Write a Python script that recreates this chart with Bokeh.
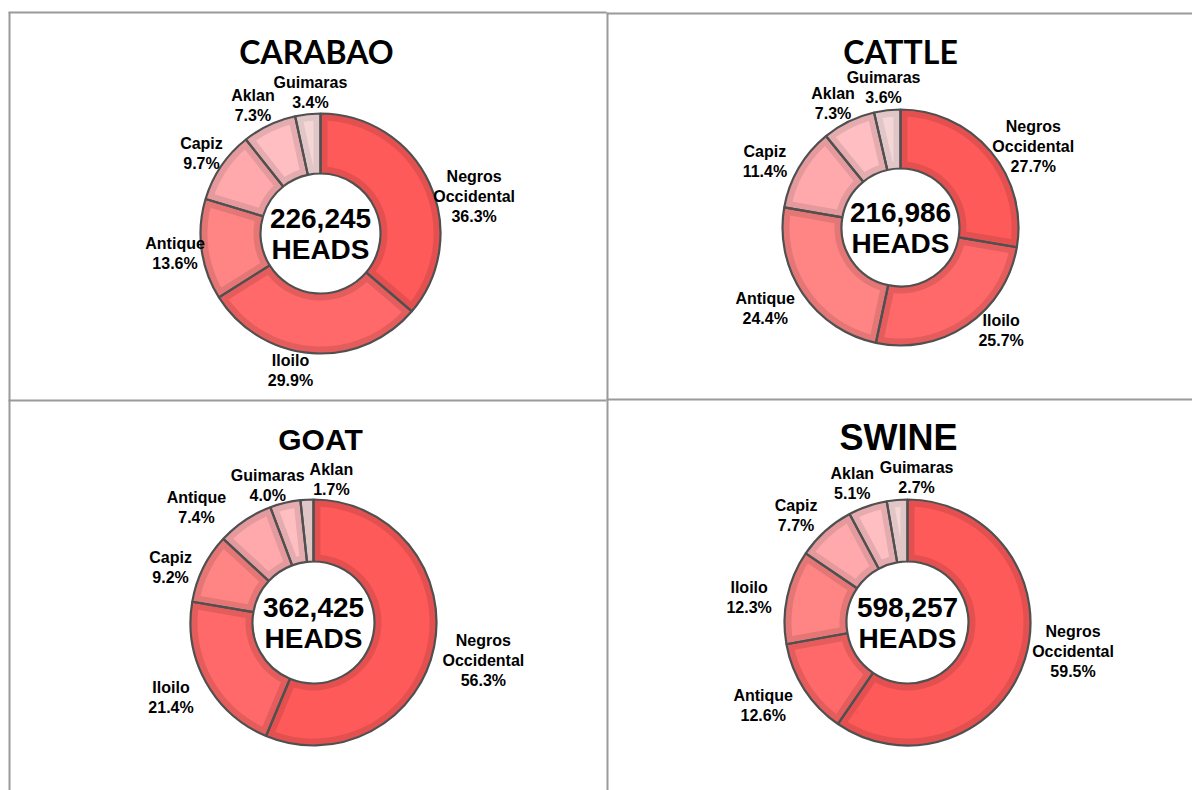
import numpy as np
from bokeh.plotting import figure
from bokeh.models import Range1d, ColumnDataSource
from bokeh.core.properties import value
from bokeh.embed import file_html
from bokeh.resources import INLINE

# ---------------- data ----------------
carabao_prov = ["Negros Occidental", "Iloilo", "Antique", "Capiz", "Aklan", "Guimaras"]
carabao_pct = [36.3, 29.9, 13.6, 9.7, 7.3, 3.4]
carabao_total = "226,245"

cattle_prov = ["Negros Occidental", "Iloilo", "Antique", "Capiz", "Aklan", "Guimaras"]
cattle_pct = [27.7, 25.7, 24.4, 11.4, 7.3, 3.6]
cattle_total = "216,986"

goat_prov = ["Negros Occidental", "Iloilo", "Capiz", "Antique", "Guimaras", "Aklan"]
goat_pct = [56.3, 21.4, 9.2, 7.4, 4.0, 1.7]
goat_total = "362,425"

swine_prov = ["Negros Occidental", "Antique", "Iloilo", "Capiz", "Aklan", "Guimaras"]
swine_pct = [59.5, 12.6, 12.3, 7.7, 5.1, 2.7]
swine_total = "598,257"

unit_label = "HEADS"

# ---------------- styles / layout ----------------
body_colors = ["#FF5A5A", "#FF6969", "#FF8585", "#FFA9AD", "#FFBEC1", "#F4D6D7"]
rim_colors = ["#E45050", "#E45C5C", "#E47676", "#E49A9D", "#E4ACAF", "#E0C6C7"]
outline = "#505050"

W, H = 1192, 790
def X(sx):
    return sx
def Y(sy):
    return H - sy

charts = [
    dict(title="CARABAO", tfont="Lato", tsize="32px", tx=316, ty=51,
         prov=carabao_prov, pct=carabao_pct, total=carabao_total,
         cx=320, cy=233, ro=120, ri=60,
         nudge=[(0, 28), (-19, -9), (10, 0), (4, 2), (-4, 4), (7, 4)]),
    dict(title="CATTLE", tfont="Lato", tsize="32px", tx=900, ty=51,
         prov=cattle_prov, pct=cattle_pct, total=cattle_total,
         cx=900, cy=227, ro=118, ri=59,
         nudge=[(5, 18), (16, -16), (-7, 0), (-9, 7), (-3, 5), (1, 3)]),
    dict(title="GOAT", tfont="Liberation Sans", tsize="30px", tx=320, ty=439,
         prov=goat_prov, pct=goat_pct, total=goat_total,
         cx=313, cy=622, ro=123, ri=61,
         nudge=[(1, 7), (-6, 3), (-7, 11), (-28, 9), (-8, 8), (26, 6)]),
    dict(title="SWINE", tfont="Liberation Sans", tsize="36px", tx=898, ty=437,
         prov=swine_prov, pct=swine_pct, total=swine_total,
         cx=907, cy=622, ro=123, ri=61,
         nudge=[(1, -18), (-10, 2), (-6, 6), (-10, 4), (-6, 2), (23, 3)]),
]

p = figure(width=W, height=H, x_range=Range1d(0, W), y_range=Range1d(0, H),
           output_backend="svg", toolbar_location=None, min_border=0)
p.axis.visible = False
p.grid.visible = False
p.outline_line_color = None
p.background_fill_color = "white"
p.border_fill_color = "white"

# table borders
bx0 = [X(8), X(606), X(9), X(607), X(8), X(606)]
by0 = [Y(12), Y(13), Y(12), Y(12), Y(400), Y(399)]
bx1 = [X(606), X(1192), X(9), X(607), X(606), X(1192)]
by1 = [Y(12), Y(13), Y(790), Y(790), Y(400), Y(399)]
p.segment(bx0, by0, bx1, by1, line_color="#9A9A9A", line_width=2)

RIM = 7
LFS = 16
CHAR_W = 8.25
LINE_H = 18.0

def body_poly(cx, cy, ri, ro, a_s, a_e, d):
    h = (a_s - a_e) / 2.0
    m = (a_s + a_e) / 2.0
    R = ro - d
    if np.sin(h) * R <= d * 1.05:
        return None
    xs, ys = [], []
    t1 = a_s - np.arcsin(d / R)
    t2 = a_e + np.arcsin(d / R)
    for t in np.linspace(t1, t2, 60):
        xs.append(cx + R * np.cos(t)); ys.append(cy + R * np.sin(t))
    rin = ri + d
    r0 = d / np.sin(h)
    if r0 >= rin:
        xs.append(cx + r0 * np.cos(m)); ys.append(cy + r0 * np.sin(m))
    else:
        t3 = a_e + np.arcsin(d / rin)
        t4 = a_s - np.arcsin(d / rin)
        for t in np.linspace(t3, t4, 40):
            xs.append(cx + rin * np.cos(t)); ys.append(cy + rin * np.sin(t))
    return xs, ys

for c in charts:
    vals = np.array(c["pct"], dtype=float)
    frac = vals / vals.sum()
    cum = np.concatenate([[0.0], np.cumsum(frac)])
    starts = np.pi / 2 - 2 * np.pi * cum[:-1]
    ends = np.pi / 2 - 2 * np.pi * cum[1:]
    cx, cy = X(c["cx"]), Y(c["cy"])
    n = len(vals)
    src = ColumnDataSource(dict(x=[cx] * n, y=[cy] * n, s=list(starts), e=list(ends),
                                rim=rim_colors[:n], body=body_colors[:n]))
    p.annular_wedge(x="x", y="y", inner_radius=c["ri"], outer_radius=c["ro"],
                    start_angle="s", end_angle="e", direction="clock",
                    fill_color="rim", line_color=None, source=src)
    pxs, pys, pcols = [], [], []
    for i in range(n):
        poly = body_poly(cx, cy, c["ri"], c["ro"], starts[i], ends[i], RIM)
        if poly is not None:
            pxs.append(poly[0]); pys.append(poly[1]); pcols.append(body_colors[i])
    p.patches(pxs, pys, fill_color=pcols, line_color=None)
    p.annular_wedge(x="x", y="y", inner_radius=c["ri"], outer_radius=c["ro"],
                    start_angle="s", end_angle="e", direction="clock",
                    fill_color=None, line_color=outline, line_width=2.2, source=src)

    # labels
    lx, ly, lt = [], [], []
    for i in range(n):
        phi = 2 * np.pi * (cum[i] + cum[i + 1]) / 2.0  # clockwise from top
        lines = c["prov"][i].split(" ") + ["%.1f%%" % vals[i]]
        w = max(len(s) for s in lines) * CHAR_W
        h = len(lines) * LINE_H
        R = c["ro"] + 8
        dx, dy = c["nudge"][i]
        px = cx + (R + w / 2) * np.sin(phi) + dx
        py = cy + (R + h / 2) * np.cos(phi) - dy
        lx.append(px); ly.append(py); lt.append("\n".join(lines))
    p.text(lx, ly, text=lt, text_font=value("Liberation Sans"), text_font_style="bold",
           text_font_size="%dpx" % LFS, text_align="center", text_baseline="middle",
           text_color="black", text_line_height=1.18)

    # center text
    p.text([cx, cx], [cy + 15, cy - 16], text=[c["total"], unit_label],
           text_font=value("Liberation Sans"), text_font_style="bold",
           text_font_size="28px", text_align="center", text_baseline="middle",
           text_color="black")

    # title
    p.text([X(c["tx"])], [Y(c["ty"])], text=[c["title"]],
           text_font=value(c["tfont"]), text_font_style="bold",
           text_font_size=c["tsize"], text_align="center", text_baseline="middle",
           text_color="black")

open("out.html", "w").write(file_html(p, INLINE))
